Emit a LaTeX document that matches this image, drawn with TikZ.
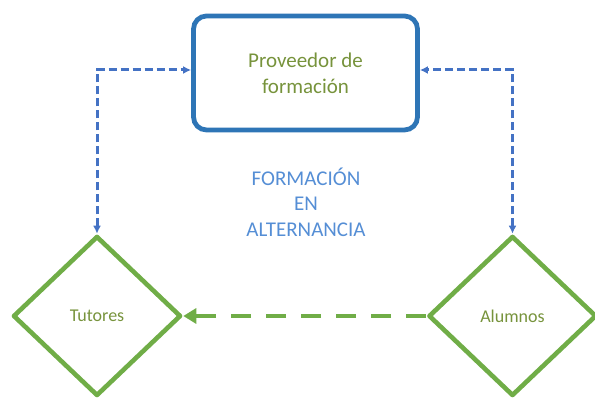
\documentclass[tikz,border=0pt]{standalone}
\usepackage{fontspec}
\setmainfont{Carlito}
\usetikzlibrary{positioning,shapes.geometric,arrows.meta}

\definecolor{boxblue}{RGB}{46,117,182}
\definecolor{arrowblue}{RGB}{68,114,196}
\definecolor{titleblue}{RGB}{85,142,213}
\definecolor{shapegreen}{RGB}{112,173,71}
\definecolor{textgreen}{RGB}{119,147,60}

\begin{document}
\begin{tikzpicture}[x=1pt,y=1pt,
	provider/.style={draw=boxblue, line width=4.8pt, rounded corners=13pt,
		minimum width=224pt, minimum height=114pt, text=textgreen, align=center,
		font=\fontsize{21}{26}\selectfont},
	actor/.style={diamond, draw=shapegreen, line width=4.6pt, line join=round,
		minimum width=168pt, minimum height=160pt, inner sep=0pt, text=textgreen,
		font=\fontsize{18}{22}\selectfont},
	link/.style={arrowblue, line width=3pt, dash pattern=on 8pt off 4pt,
		{Latex[length=8pt,width=8pt]}-{Latex[length=8pt,width=8pt]}},
	flow/.style={shapegreen, line width=4.6pt, dash pattern=on 20pt off 15pt,
		-{Triangle[length=13pt,width=15pt]}}]
	\useasboundingbox (0,0) rectangle (595,401);
	\node [provider] (provider) at (305.5,328) {Proveedor de\\formación};
	\node [actor] (tutores) at (97,85) {Tutores};
	\node [actor] (alumnos) at (512.5,85) {Alumnos};
	\node [text=titleblue, align=center, font=\fontsize{21}{25.5}\selectfont] (title) at (306,199) {FORMACIÓN\\EN\\ALTERNANCIA};
	\draw [link] (tutores.north) |- ([yshift=3pt]provider.west);
	\draw [link] (alumnos.north) |- ([yshift=3pt]provider.east);
	\draw [flow] (alumnos.west) -- (tutores.east);
\end{tikzpicture}
\end{document}
